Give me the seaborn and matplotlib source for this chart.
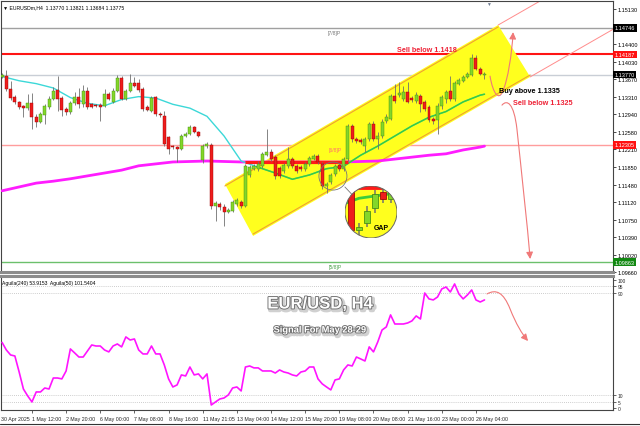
import numpy as np
import matplotlib
matplotlib.use("Agg")
import matplotlib.pyplot as plt
import matplotlib.patheffects as pe
from matplotlib.patches import Polygon, Ellipse, Circle, FancyArrowPatch
from matplotlib.path import Path
from matplotlib.lines import Line2D
import seaborn as sns

sns.set_theme(style="white")
plt.rcParams['font.family'] = ['Liberation Sans', 'DejaVu Sans']

# ---- price data (EURUSD H4), one value per bar ----
opens = [1.1372, 1.1374, 1.1347, 1.1330, 1.1320, 1.1311, 1.1307, 1.1317, 1.1288, 1.1278,
         1.1292, 1.1309, 1.1326, 1.1345, 1.1328, 1.1305, 1.1299, 1.1317, 1.1330, 1.1315,
         1.1342, 1.1315, 1.1313, 1.1313, 1.1311, 1.1336, 1.1320, 1.1342, 1.1370, 1.1326,
         1.1342, 1.1359, 1.1359, 1.1347, 1.1309, 1.1301, 1.1330, 1.1295, 1.1290, 1.1247,
         1.1228, 1.1226, 1.1222, 1.1249, 1.1253, 1.1267, 1.1257, 1.1199, 1.1228, 1.1230,
         1.1103, 1.1107, 1.1101, 1.1091, 1.1093, 1.1107, 1.1112, 1.1103, 1.1167, 1.1180,
         1.1180, 1.1186, 1.1209, 1.1215, 1.1205, 1.1182, 1.1176, 1.1186, 1.1201, 1.1186,
         1.1184, 1.1180, 1.1190, 1.1201, 1.1207, 1.1190, 1.1145, 1.1153, 1.1170, 1.1188,
         1.1180, 1.1201, 1.1270, 1.1242, 1.1240, 1.1228, 1.1242, 1.1274, 1.1242, 1.1249,
         1.1280, 1.1284, 1.1332, 1.1334, 1.1326, 1.1340, 1.1328, 1.1322, 1.1332, 1.1320,
         1.1309, 1.1284, 1.1282, 1.1311, 1.1326, 1.1342, 1.1326, 1.1357, 1.1363, 1.1372,
         1.1376, 1.1411, 1.1388, 1.13770]
highs = [1.1380, 1.1386, 1.1363, 1.1334, 1.1322, 1.1313, 1.1336, 1.1338, 1.1295, 1.1299,
         1.1315, 1.1332, 1.1351, 1.1374, 1.1332, 1.1309, 1.1322, 1.1340, 1.1349, 1.1355,
         1.1351, 1.1317, 1.1315, 1.1317, 1.1347, 1.1340, 1.1349, 1.1376, 1.1374, 1.1347,
         1.1378, 1.1372, 1.1367, 1.1351, 1.1313, 1.1332, 1.1332, 1.1299, 1.1301, 1.1249,
         1.1230, 1.1228, 1.1253, 1.1257, 1.1272, 1.1270, 1.1259, 1.1232, 1.1236, 1.1234,
         1.1114, 1.1112, 1.1107, 1.1099, 1.1116, 1.1120, 1.1116, 1.1190, 1.1188, 1.1190,
         1.1197, 1.1215, 1.1263, 1.1222, 1.1209, 1.1186, 1.1192, 1.1226, 1.1205, 1.1190,
         1.1188, 1.1195, 1.1207, 1.1211, 1.1211, 1.1195, 1.1153, 1.1172, 1.1190, 1.1192,
         1.1205, 1.1274, 1.1274, 1.1247, 1.1245, 1.1247, 1.1278, 1.1280, 1.1257, 1.1284,
         1.1295, 1.1336, 1.1357, 1.1361, 1.1353, 1.1361, 1.1332, 1.1340, 1.1336, 1.1324,
         1.1313, 1.1288, 1.1317, 1.1334, 1.1345, 1.1374, 1.1363, 1.1370, 1.1376, 1.1382,
         1.1419, 1.1417, 1.1392, 1.13821]
lows = [1.1370, 1.1342, 1.1324, 1.1315, 1.1305, 1.1288, 1.1303, 1.1263, 1.1267, 1.1276,
        1.1274, 1.1305, 1.1324, 1.1301, 1.1290, 1.1292, 1.1295, 1.1313, 1.1307, 1.1309,
        1.1305, 1.1307, 1.1309, 1.1280, 1.1309, 1.1324, 1.1317, 1.1340, 1.1324, 1.1324,
        1.1340, 1.1351, 1.1340, 1.1301, 1.1301, 1.1299, 1.1290, 1.1288, 1.1228, 1.1211,
        1.1222, 1.1195, 1.1220, 1.1247, 1.1251, 1.1255, 1.1247, 1.1192, 1.1224, 1.1097,
        1.1072, 1.1095, 1.1062, 1.1089, 1.1091, 1.1103, 1.1099, 1.1101, 1.1163, 1.1178,
        1.1176, 1.1182, 1.1207, 1.1197, 1.1159, 1.1161, 1.1172, 1.1182, 1.1182, 1.1172,
        1.1176, 1.1176, 1.1186, 1.1199, 1.1190, 1.1138, 1.1130, 1.1149, 1.1165, 1.1176,
        1.1176, 1.1197, 1.1236, 1.1234, 1.1232, 1.1215, 1.1238, 1.1238, 1.1222, 1.1245,
        1.1276, 1.1282, 1.1317, 1.1330, 1.1322, 1.1317, 1.1320, 1.1317, 1.1299, 1.1301,
        1.1278, 1.1274, 1.1253, 1.1305, 1.1317, 1.1322, 1.1322, 1.1355, 1.1361, 1.1370,
        1.1374, 1.1386, 1.1376, 1.13684]
closes = [1.1376, 1.1347, 1.1328, 1.1320, 1.1309, 1.1307, 1.1317, 1.1288, 1.1278, 1.1295,
          1.1311, 1.1326, 1.1342, 1.1326, 1.1303, 1.1299, 1.1317, 1.1330, 1.1315, 1.1342,
          1.1309, 1.1309, 1.1311, 1.1309, 1.1336, 1.1326, 1.1342, 1.1370, 1.1326, 1.1342,
          1.1359, 1.1353, 1.1345, 1.1305, 1.1303, 1.1328, 1.1295, 1.1292, 1.1232, 1.1222,
          1.1226, 1.1222, 1.1249, 1.1253, 1.1267, 1.1257, 1.1249, 1.1228, 1.1232, 1.1103,
          1.1110, 1.1101, 1.1091, 1.1095, 1.1112, 1.1116, 1.1103, 1.1186, 1.1184, 1.1186,
          1.1190, 1.1211, 1.1215, 1.1201, 1.1165, 1.1165, 1.1188, 1.1201, 1.1186, 1.1176,
          1.1180, 1.1190, 1.1203, 1.1207, 1.1195, 1.1145, 1.1149, 1.1167, 1.1186, 1.1180,
          1.1201, 1.1270, 1.1242, 1.1238, 1.1236, 1.1242, 1.1274, 1.1242, 1.1249, 1.1278,
          1.1288, 1.1332, 1.1322, 1.1338, 1.1340, 1.1320, 1.1324, 1.1334, 1.1315, 1.1305,
          1.1282, 1.1280, 1.1311, 1.1330, 1.1340, 1.1326, 1.1359, 1.1365, 1.1372, 1.1378,
          1.1411, 1.1388, 1.1378, 1.13775]

# moving averages read every 4 bars (plus last bar)
ma_bars = [0, 4, 8, 12, 16, 20, 24, 28, 32, 36, 40, 44, 48, 52, 56, 60, 64, 68, 72, 76,
           80, 84, 88, 92, 96, 100, 104, 108, 112, 113]
ma_fast = [1.1373, 1.1364, 1.1358, 1.1349, 1.1329, 1.1317, 1.1312, 1.1325, 1.1331, 1.1328,
           1.1315, 1.1307, 1.1290, 1.1249, 1.1197, 1.1184, 1.1172, 1.1159, 1.1168, 1.1181,
           1.1186, 1.1209, 1.1228, 1.1249, 1.1270, 1.1288, 1.1300, 1.1320, 1.1334, 1.1336]
ma_slow = [1.1135, 1.1143, 1.1151, 1.1155, 1.1160, 1.1166, 1.1172, 1.1178, 1.1187, 1.1191,
           1.1195, 1.1196, 1.1197, 1.1196, 1.1195, 1.1195, 1.1195, 1.1195, 1.1195, 1.1195,
           1.1195, 1.1196, 1.1197, 1.1201, 1.1205, 1.1209, 1.1212, 1.1220, 1.1226, 1.1228]

# oscillator in lower panel
aguila = [51.2, 45.3, 41.4, 40.6, 28.1, 14.8, 9.4, 4.7, 12.5, 12.5,
          15.6, 14.8, 23.4, 23.4, 22.7, 28.9, 46.1, 43.0, 39.8, 39.8,
          44.5, 49.2, 48.4, 48.4, 45.3, 43.8, 48.4, 50.0, 47.7, 55.5,
          53.1, 53.9, 45.3, 42.2, 42.2, 48.4, 42.2, 42.2, 33.6, 22.7,
          16.4, 18.0, 25.8, 25.0, 32.0, 25.8, 26.6, 22.7, 26.6, 2.3,
          4.7, 7.0, 7.8, 10.2, 15.6, 16.4, 13.3, 32.0, 32.8, 31.3,
          31.3, 28.9, 28.9, 28.9, 27.3, 29.7, 28.1, 27.3, 25.8, 25.0,
          28.1, 28.9, 32.0, 32.0, 22.7, 18.8, 16.4, 14.1, 21.9, 22.7,
          29.7, 33.6, 32.8, 39.8, 38.3, 36.7, 47.7, 43.8, 51.6, 60.9,
          63.3, 72.7, 65.6, 65.6, 65.6, 66.4, 68.0, 71.9, 69.5, 89.8,
          85.2, 84.4, 86.7, 93.0, 94.5, 90.6, 96.9, 89.1, 85.2, 88.3,
          92.2, 84.4, 82.8, 84.4]

# horizontal levels and their right-hand price boxes
level_prices = [1.14746, 1.14187, 1.13770, 1.12305, 1.09863]
level_colors = ['#a0a0a0', '#ff1414', '#c9ced6', '#ff9d9d', '#6cc06c']
level_widths = [1.0, 1.5, 1.0, 1.0, 1.0]
box_colors = ['black', '#ff1010', 'black', '#ff1010', '#118811']

price_ticks = [1.15130, 1.14400, 1.14030, 1.13670, 1.13310, 1.12940, 1.12580, 1.12210,
               1.11850, 1.11480, 1.11120, 1.10750, 1.10390, 1.10020, 1.09660]

date_ticks = [7, 15, 23, 31, 39, 47, 55, 63, 71, 79, 87, 95, 103, 111]
date_labels = ["1 May 12:00", "2 May 20:00", "6 May 00:00", "7 May 08:00", "8 May 16:00",
               "11 May 21:05", "13 May 04:00", "14 May 12:00", "15 May 20:00", "19 May 08:00",
               "20 May 08:00", "21 May 16:00", "23 May 00:00", "26 May 04:00"]

# channel (rotated rectangle) corners, bar index / price
channel_bars = [52.2, 116.2, 123.7, 58.8]
channel_prices = [1.1149, 1.1480, 1.1372, 1.1041]
gap_level = 1.1194
gap_start, gap_end = 57, 81

bars = np.arange(len(closes))
o = np.array(opens)
c = np.array(closes)
up = c >= o


def draw_candles(a, scale=1.0):
    a.vlines(bars, lows, highs, color='#707070', lw=0.6 * scale, zorder=4)
    a.bar(bars[up], (c - o)[up], bottom=o[up], width=0.7, color='#84d62a',
          edgecolor='#3f8a10', lw=0.3 * scale, zorder=5)
    a.bar(bars[~up], (c - o)[~up], bottom=o[~up], width=0.7, color='#ee1c1c',
          edgecolor='#9a0000', lw=0.3 * scale, zorder=5)


W, H = 640, 427
fig = plt.figure(figsize=(6.4, 4.27), dpi=100)
fig.patch.set_facecolor('white')
ax = fig.add_axes([1 / W, 1 - 273 / H, 612 / W, 271 / H])
ax2 = fig.add_axes([1 / W, 1 - 411 / H, 612 / W, 134 / H])

# ---- main price panel ----
ax.set_xlim(-0.25, 143.1)
ax.set_ylim(1.0966, 1.1530)

for lp, lc, lw in zip(level_prices, level_colors, level_widths):
    ax.axhline(lp, color=lc, lw=lw, zorder=1)

channel = Polygon(list(zip(channel_bars, channel_prices)), closed=True,
                  facecolor='#ffff1e', edgecolor='none', zorder=2)
ax.add_patch(channel)
# channel borders and their extensions
ax.plot([52.2, 116.2], [1.1145, 1.1476], color='#f0a030', lw=0.8, zorder=2.5)
ax.plot([58.8, 123.7], [1.1045, 1.1376], color='#f0a030', lw=0.8, zorder=2.5)
ax.plot([116.2, 127.2], [1.1480, 1.1536], color='#ff8c8c', lw=0.7, zorder=2.5)
ax.plot([123.7, 143.1], [1.1372, 1.1471], color='#ff8c8c', lw=0.7, zorder=2.5)

sns.lineplot(x=ma_bars, y=ma_slow, ax=ax, color='#ff1cff', lw=2.0, zorder=3)
sns.lineplot(x=ma_bars, y=ma_fast, ax=ax, color='#3cd8d8', lw=1.0, zorder=3)
sns.lineplot(x=ma_bars, y=ma_fast, ax=ax, color='#3ccc3c', lw=1.1, zorder=3.2)
ax.lines[-1].set_clip_path(channel)
ax.hlines(gap_level, gap_start, gap_end, color='#ff1a1a', lw=2.3, zorder=3.5)

draw_candles(ax)

# magnifier source circle and connector
ax.add_patch(Ellipse((77.5, 1.11656), 6.56, 0.00582, fill=False, edgecolor='#777777',
                     lw=0.6, zorder=6))
ax.plot([80.3, 82.1], [1.1143, 1.1126], color='#777777', lw=0.6, zorder=6)


def curved_arrow(a, xs, ys, color='#f07878', lw=0.8):
    verts = list(zip(xs, ys))
    codes = [Path.MOVETO] + [Path.CURVE4] * (len(verts) - 1)
    arr = FancyArrowPatch(path=Path(verts, codes),
                          arrowstyle='-|>,head_length=4,head_width=2',
                          color=color, lw=lw, transform=a.transData, zorder=7)
    a.add_patch(arr)


curved_arrow(ax, [114.3, 115.0, 116.4, 117.3, 118.5, 119.4, 119.7],
             [1.13736, 1.13362, 1.13216, 1.13424, 1.13674, 1.14194, 1.14652])
curved_arrow(ax, [117.1, 118.3, 119.9, 120.6, 121.6, 123.0, 123.7],
             [1.13133, 1.13258, 1.13175, 1.12634, 1.11802, 1.10658, 1.09930])

ax.text(99.6, 1.14288, "Sell below 1.1418", color='#ee2236', fontsize=5.2,
        fontweight='bold', ha='center', va='center', zorder=8)
ax.text(123.5, 1.13435, "Buy above 1.1335", color='black', fontsize=5.2,
        fontweight='bold', ha='center', va='center', zorder=8)
ax.text(126.6, 1.13196, "Sell below 1.1325", color='#ee2236', fontsize=5.2,
        fontweight='bold', ha='center', va='center', zorder=8)
ax.text(77.9, 1.14641, "[7/8]P", color='#777777', fontsize=3.6, ha='center', va='center')
ax.text(78.0, 1.12208, "[6/8]P", color='#ff6e6e', fontsize=3.6, ha='center', va='center')
ax.text(78.0, 1.09774, "[5/8]P", color='#4aa04a', fontsize=3.6, ha='center', va='center')
ax.text(0.003, 0.988, "\u25BC EURUSDm,H4  1.13770 1.13821 1.13684 1.13775",
        transform=ax.transAxes, fontsize=3.7, ha='left', va='top', color='black')
ax.text(113.9, 1.1530, "\u25BC", color='#6c7a90', fontsize=3.5, ha='center', va='top')

ax.set_xticks([])
ax.set_yticks(price_ticks)
ax.set_yticklabels([f"{v:.5f}" for v in price_ticks])
ax.tick_params(axis='y', which='both', right=True, left=False, labelright=True,
               labelleft=False, length=2, width=0.5, direction='out', pad=1.5,
               labelsize=4, colors='black')
for lp, bc in zip(level_prices, box_colors):
    ax.text(1.003, lp, f"{lp:.5f}", transform=ax.get_yaxis_transform(), color='white',
            fontsize=4, ha='left', va='center', zorder=9, clip_on=False,
            bbox=dict(boxstyle='square,pad=0.25', facecolor=bc, edgecolor='none'))
for s in ['top', 'left', 'right']:
    ax.spines[s].set_color('#444444')
    ax.spines[s].set_linewidth(0.8)
ax.spines['bottom'].set_color('#8c8c8c')
ax.spines['bottom'].set_linewidth(2.2)

# ---- magnifier ----
axm = fig.add_axes([(371 - 26) / W, 1 - (213 + 26) / H, 52 / W, 52 / H])
axm.set_xlim(77.5 - 3.28, 77.5 + 3.28)
axm.set_ylim(1.11656 - 0.00291, 1.11656 + 0.00291)
axm.axis('off')
axm.patch.set_visible(False)
disc = Circle((0.5, 0.5), 0.5, transform=axm.transAxes, facecolor='#ffff1e',
              edgecolor='none', zorder=0)
axm.add_patch(disc)
sns.lineplot(x=ma_bars, y=ma_fast, ax=axm, color='#3ccc3c', lw=2.0, zorder=3)
axm.hlines(gap_level, gap_start, gap_end, color='#ff1a1a', lw=4.2, zorder=3.5)
draw_candles(axm, scale=1.8)
for art in axm.get_children():
    if art is not disc:
        art.set_clip_path(disc)
axm.add_patch(Circle((0.5, 0.5), 0.5, transform=axm.transAxes, fill=False,
                     edgecolor='#666666', lw=0.7, zorder=10))
axm.text(0.69, 0.21, "GAP", transform=axm.transAxes, fontsize=5, fontweight='bold',
         ha='center', va='center', color='black', zorder=11)

# ---- oscillator panel ----
ax2.set_xlim(-0.25, 143.1)
ax2.set_ylim(-1.6, 103.1)
for lv in [95, 90, 10, 5]:
    ax2.axhline(lv, color='#bdbdbd', lw=0.6, ls=(0, (1, 1.5)), zorder=1)
sns.lineplot(x=bars, y=aguila, ax=ax2, color='#ff14ff', lw=1.2, zorder=3)
curved_arrow(ax2, [113.6, 115.7, 117.4, 119.0, 120.4, 121.8, 123.2],
             [89.1, 93.0, 90.6, 77.3, 65.6, 57.8, 52.3])
ax2.text(0.002, 0.97, "Aguila(240) 53.9153  Aguila(50) 101.5404", transform=ax2.transAxes,
         fontsize=3.6, ha='left', va='top', color='black')
ax2.set_yticks([0, 5, 10, 90, 95, 100])
ax2.set_yticklabels(['0', '5', '10', '90', '95', '100'])
ax2.tick_params(axis='y', right=True, left=False, labelright=True, labelleft=False,
                length=2, width=0.5, direction='out', pad=1.5, labelsize=3.5)
ax2.set_xticks(date_ticks)
ax2.set_xticklabels(date_labels, ha='left')
ax2.tick_params(axis='x', bottom=True, length=2, width=0.5, direction='out', pad=2,
                labelsize=3.8)
ax2.text(-0.15, -0.045, "30 Apr 2025", transform=ax2.get_xaxis_transform(), fontsize=3.8,
         ha='left', va='top', clip_on=False)
ax2.set_xlabel('')
ax2.set_ylabel('')
ax.set_xlabel('')
ax.set_ylabel('')
for s in ['bottom', 'left', 'right']:
    ax2.spines[s].set_color('#444444')
    ax2.spines[s].set_linewidth(0.8)
ax2.spines['top'].set_color('#8c8c8c')
ax2.spines['top'].set_linewidth(2.2)

big = [pe.Stroke(linewidth=3, foreground='#d0d0d0', offset=(1.2, -1.2)),
       pe.Stroke(linewidth=1.3, foreground='#6e6e6e'), pe.Normal()]
fig.text(0.5, 1 - 305 / H, "EUR/USD, H4", fontsize=12, fontweight='bold', color='white',
         ha='center', va='center', path_effects=big)
fig.text(0.5, 1 - 331 / H, "Signal For May 28-29", fontsize=6.7, fontweight='bold',
         color='white', ha='center', va='center', path_effects=big)

fig.add_artist(Line2D([0, 1], [1 - 425 / H, 1 - 425 / H], transform=fig.transFigure,
                      color='#333333', lw=0.8))

fig.savefig("out.png", dpi=100)
